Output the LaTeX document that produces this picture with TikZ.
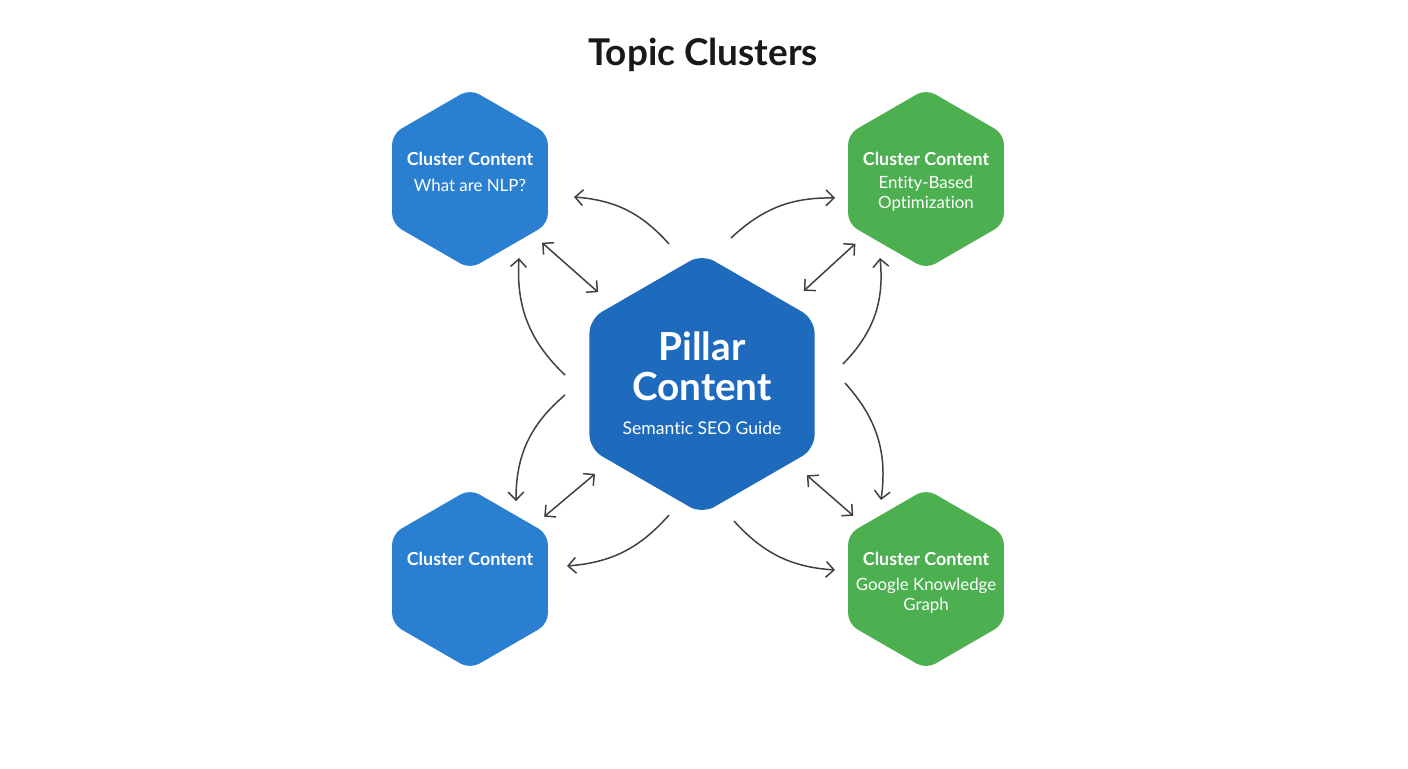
\documentclass[tikz,border=0pt]{standalone}
\usepackage{fontspec}
\setmainfont[Ligatures=NoCommon]{Lato}
\usepackage{xcolor}
\usetikzlibrary{shapes.geometric,arrows.meta}

\definecolor{clusterblue}{HTML}{2B7FD0}
\definecolor{pillarblue}{HTML}{1E6BBE}
\definecolor{clustergreen}{HTML}{4CAF50}
\definecolor{linkgray}{HTML}{404040}

\begin{document}
\begin{tikzpicture}[
  x=0.02cm, y=0.02cm,
  hex/.style={regular polygon, regular polygon sides=6, shape border rotate=30,
    inner sep=0pt, outer sep=0pt, rounded corners=6pt, minimum size=3.6cm},
  hexblue/.style={hex, fill=clusterblue},
  hexgreen/.style={hex, fill=clustergreen},
  pillar/.style={hex, fill=pillarblue, minimum size=5.2cm, rounded corners=8pt},
  ctitle/.style={text=white, font=\fontsize{10.2}{12}\selectfont\bfseries},
  csub/.style={text=white, align=center, font=\fontsize{9.6}{11.6}\selectfont},
  link/.style={draw=linkgray, line width=0.85pt, -{Straight Barb[length=4.5pt,width=9pt]}},
  both/.style={link, {Straight Barb[length=4.5pt,width=9pt]}-{Straight Barb[length=4.5pt,width=9pt]}},
]
\fill[white] (0,0) rectangle (1408,-768);
\useasboundingbox (0,0) rectangle (1408,-768);

\node[font=\fontsize{21}{25}\selectfont\bfseries, text=black!90] (title) at (703,-55) {Topic Clusters};

% hexagons
\node[pillar] (c) at (702,-384) {};
\node[hexblue] (tl) at (470,-179) {};
\node[hexgreen] (tr) at (926,-179) {};
\node[hexblue] (bl) at (470,-579) {};
\node[hexgreen] (br) at (926,-579) {};

% texts
\node[text=white, align=center, font=\fontsize{22}{22.8}\selectfont\bfseries] (cT) at (702,-366) {Pillar\\Content};
\node[csub, font=\fontsize{10}{12}\selectfont] (cS) at (702,-428) {Semantic SEO Guide};
\node[ctitle] (tlT) at (470,-159) {Cluster Content};
\node[csub] (tlS) at (470,-185) {What are NLP?};
\node[ctitle] (trT) at (926,-159) {Cluster Content};
\node[csub] (trS) at (926,-194) {Entity-Based\\Optimization};
\node[ctitle] (blT) at (470,-559) {Cluster Content};
\node[ctitle] (brT) at (926,-559) {Cluster Content};
\node[csub] (brS) at (926,-596) {Google Knowledge\\Graph};

% straight links
\draw[both, shorten <=0.28cm, shorten >=0.4cm] (tl) -- (c);
\draw[both, shorten <=0.28cm, shorten >=0.4cm] (tr) -- (c);
\draw[both, shorten <=0.28cm, shorten >=0.4cm] (bl) -- (c);
\draw[both, shorten <=0.28cm, shorten >=0.4cm] (br) -- (c);

% curved links
\coordinate (tlA) at (669,-244); \coordinate (tlB) at (574,-197);
\coordinate (tlC) at (565,-375); \coordinate (tlD) at (519,-258);
\coordinate (trA) at (731,-238); \coordinate (trB) at (835,-198);
\coordinate (trC) at (843,-364); \coordinate (trD) at (880,-258);
\coordinate (blA) at (669,-515); \coordinate (blB) at (567,-566);
\coordinate (blC) at (565,-395); \coordinate (blD) at (516,-501);
\coordinate (brA) at (734,-521); \coordinate (brB) at (835,-570);
\coordinate (brC) at (845,-383); \coordinate (brD) at (881,-500);
\draw[link] (tlA) to[bend right=22] (tlB);
\draw[link] (tlC) to[bend left=25] (tlD);
\draw[link] (trA) to[bend left=22] (trB);
\draw[link] (trC) to[bend right=25] (trD);
\draw[link] (blA) to[bend left=22] (blB);
\draw[link] (blC) to[bend right=25] (blD);
\draw[link] (brA) to[bend right=22] (brB);
\draw[link] (brC) to[bend left=25] (brD);
\end{tikzpicture}
\end{document}
